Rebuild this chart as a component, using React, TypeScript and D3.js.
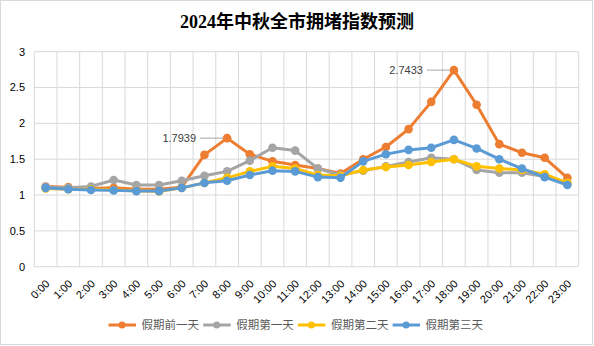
import React from "react";
import * as d3 from "d3";

const hours = ["0:00","1:00","2:00","3:00","4:00","5:00","6:00","7:00","8:00","9:00","10:00","11:00","12:00","13:00","14:00","15:00","16:00","17:00","18:00","19:00","20:00","21:00","22:00","23:00"];
const seriesNames = ["假期前一天", "假期第一天", "假期第二天", "假期第三天"];
const seriesColors = ["#ED7D31", "#A5A5A5", "#FFC000", "#5B9BD5"];
const beforeDay = [1.12,1.11,1.09,1.10,1.08,1.08,1.11,1.56,1.7939,1.57,1.47,1.42,1.37,1.30,1.50,1.67,1.92,2.30,2.7433,2.26,1.71,1.59,1.52,1.24];
const day1 = [1.11,1.10,1.12,1.21,1.14,1.14,1.20,1.27,1.33,1.48,1.66,1.62,1.37,1.28,1.34,1.40,1.46,1.52,1.50,1.35,1.31,1.31,1.26,1.16];
const day2 = [1.09,1.08,1.08,1.07,1.06,1.05,1.10,1.17,1.24,1.33,1.40,1.37,1.28,1.27,1.35,1.39,1.42,1.46,1.50,1.40,1.37,1.35,1.29,1.17];
const day3 = [1.10,1.08,1.07,1.065,1.055,1.055,1.10,1.17,1.20,1.28,1.34,1.33,1.25,1.24,1.47,1.57,1.63,1.66,1.77,1.65,1.50,1.37,1.25,1.14];
const yTicks = [0, 0.5, 1, 1.5, 2, 2.5, 3];
const labelled = [{ series: 0, index: 8 }, { series: 0, index: 18 }];

const W = 594, H = 346;
const left = 34.3, right = 578.7, top = 51.7, bottom = 266.7;
const numFont = "'Liberation Sans', Arial, sans-serif";
const cjkFont = "'Noto Sans CJK SC', sans-serif";

export default function App() {
  const allSeries = [beforeDay, day1, day2, day3];
  const x = d3.scaleBand<string>().domain(hours).range([left, right]).padding(0);
  const y = d3.scaleLinear().domain([0, 3]).range([bottom, top]);
  const cx = (h: string) => (x(h) as number) + x.bandwidth() / 2;
  const line = d3.line<number>().x((_, i) => cx(hours[i])).y((v) => y(v));
  const grid = "#d9d9d9";
  const boundaries = hours.map((h) => x(h) as number).concat([right]);

  return (
    <svg width={W} height={H} style={{ position: "absolute", left: 0, top: 0, background: "#fff" }}>
      <rect x={0.5} y={0.5} width={592} height={344} fill="#fff" stroke="#d9d9d9" />
      <text x={297} y={28} textAnchor="middle" fontSize={18} fontWeight="bold"
        fontFamily={"'Liberation Serif', 'Noto Sans CJK SC', serif"} fill="#000">
        2024年中秋全市拥堵指数预测
      </text>
      {yTicks.map((t) => (
        <g key={"y" + t}>
          <line x1={left} x2={right} y1={y(t)} y2={y(t)} stroke={grid} strokeWidth={1} />
          <text x={25} y={y(t)} dy="0.35em" textAnchor="end" fontSize={11} fontFamily={numFont} fill="#000">{t}</text>
        </g>
      ))}
      {boundaries.map((bx, i) => (
        <line key={"v" + i} x1={bx} x2={bx} y1={top} y2={bottom} stroke={grid} strokeWidth={1} />
      ))}
      {hours.map((h) => (
        <text key={"x" + h} transform={`translate(${cx(h) + 2},${bottom + 15}) rotate(-45)`}
          textAnchor="end" dy="0.35em" fontSize={11} fontFamily={numFont} fill="#000">{h}</text>
      ))}
      {allSeries.map((s, si) => (
        <g key={"s" + si}>
          <path d={line(s) as string} fill="none" stroke={seriesColors[si]} strokeWidth={3} strokeLinejoin="round" />
          {s.map((v, i) => (
            <circle key={i} cx={cx(hours[i])} cy={y(v)} r={4.3} fill={seriesColors[si]} />
          ))}
        </g>
      ))}
      {labelled.map((l) => {
        const v = allSeries[l.series][l.index];
        const px = cx(hours[l.index]);
        const py = y(v);
        return (
          <g key={"l" + l.index}>
            <line x1={px - 27} x2={px - 4} y1={py} y2={py} stroke="#a6a6a6" strokeWidth={1} />
            <text x={px - 31} y={py} dy="0.35em" textAnchor="end" fontSize={11} fontFamily={numFont} fill="#404040">{v.toFixed(4)}</text>
          </g>
        );
      })}
      {seriesNames.map((n, i) => {
        const lx = 108.5 + i * 94.7;
        const ly = 325;
        return (
          <g key={"lg" + i}>
            <line x1={lx} x2={lx + 27.5} y1={ly} y2={ly} stroke={seriesColors[i]} strokeWidth={3} />
            <circle cx={lx + 13.5} cy={ly} r={3.5} fill={seriesColors[i]} />
            <text x={lx + 33} y={ly} dy="0.35em" fontSize={11.5} fontFamily={cjkFont} fill="#595959">{n}</text>
          </g>
        );
      })}
    </svg>
  );
}
